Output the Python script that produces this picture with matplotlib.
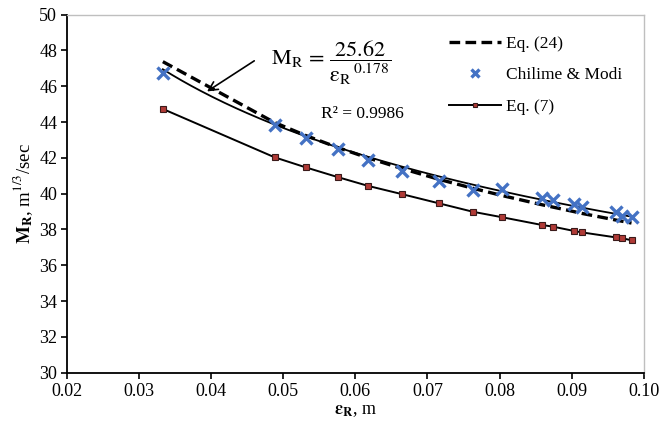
import numpy as np
import matplotlib.pyplot as plt

plt.rcParams['font.family'] = ['Liberation Serif', 'DejaVu Serif']
plt.rcParams['mathtext.fontset'] = 'stix'

# relative roughness eps_R (m) at each measured section
eps = [0.0333, 0.0488, 0.0531, 0.0576, 0.0618, 0.0664, 0.0716, 0.0763,
       0.0804, 0.0859, 0.0874, 0.0903, 0.0914, 0.0961, 0.0970, 0.0983]
# Manning-type coefficient from Chilime & Modi data
m_chilime = [46.76, 43.84, 43.09, 42.48, 41.88, 41.28, 40.73, 40.21,
             40.25, 39.74, 39.65, 39.41, 39.27, 38.95, 38.78, 38.70]
# Eq. (24)
m_eq24 = [47.37, 43.97, 43.25, 42.57, 41.99, 41.41, 40.80, 40.30,
          39.89, 39.38, 39.25, 39.00, 38.90, 38.53, 38.46, 38.36]
# Eq. (7)
m_eq7 = [44.73, 42.03, 41.47, 40.92, 40.43, 39.98, 39.46, 38.99,
         38.68, 38.25, 38.16, 37.92, 37.84, 37.56, 37.51, 37.40]

# power trendline of the Chilime data
fit_a = 25.62
fit_b = 0.178
fit_r2 = 0.9986

fig = plt.figure(figsize=(6.63, 4.28), dpi=100)
ax = fig.add_axes([0.101, 0.129, 0.870, 0.837])

ax.plot(eps, m_eq24, color='black', lw=2.4, ls=(0, (3.2, 1.6)), label='Eq. (24)', zorder=3)
ax.plot(eps, m_chilime, ls='none', marker='x', ms=8, mew=2.4, color='#4472C4',
        label='Chilime & Modi', zorder=4)
ax.plot(eps, m_eq7, color='black', lw=1.4, marker='s', ms=4, mfc='#B03A36',
        mec='#3a1a1a', mew=0.8, label='Eq. (7)', zorder=3)

xf = np.linspace(eps[0], eps[-1], 200)
ax.plot(xf, fit_a / xf ** fit_b, color='black', lw=1.3, zorder=2)

# trendline equation with arrow
x_tip = 0.0391
ax.annotate('', xy=(x_tip, fit_a / x_tip ** fit_b), xytext=(0.0463, 47.5),
            arrowprops=dict(arrowstyle='->', color='black', lw=1.2, mutation_scale=16))
ax.text(0.0483, 47.3,
        r'$\mathrm{M_R}\,=\,\dfrac{25.62}{\mathrm{\varepsilon_R}^{\,0.178}}$',
        fontsize=16, va='center', ha='left')
ax.text(0.0553, 44.45, 'R² = %.4f' % fit_r2, fontsize=12.5, va='center', ha='left')

ax.set_xlim(0.02, 0.10)
ax.set_ylim(30, 50)
ax.set_xticks(np.arange(0.02, 0.1001, 0.01))
ax.set_xticklabels(['%.2f' % v for v in np.arange(0.02, 0.1001, 0.01)])
ax.set_yticks(range(30, 51, 2))
ax.tick_params(direction='out', length=4, width=1.2, labelsize=13, pad=3)

for s in ['left', 'bottom']:
    ax.spines[s].set_linewidth(1.3)
for s in ['top', 'right']:
    ax.spines[s].set_color('#bfbfbf')
    ax.spines[s].set_linewidth(1.0)

ax.set_xlabel(r'$\mathbf{\varepsilon_R}$, m', fontsize=13, labelpad=2)
ax.set_ylabel(r'$\mathbf{M_R}$, m$^{1/3}$/sec', fontsize=13.5, labelpad=3)

ax.legend(loc='upper right', bbox_to_anchor=(0.99, 0.985), frameon=False, fontsize=12.5,
          handlelength=3.0, handletextpad=0.3, labelspacing=0.9, markerscale=0.75)

fig.savefig('out.png', dpi=100)
